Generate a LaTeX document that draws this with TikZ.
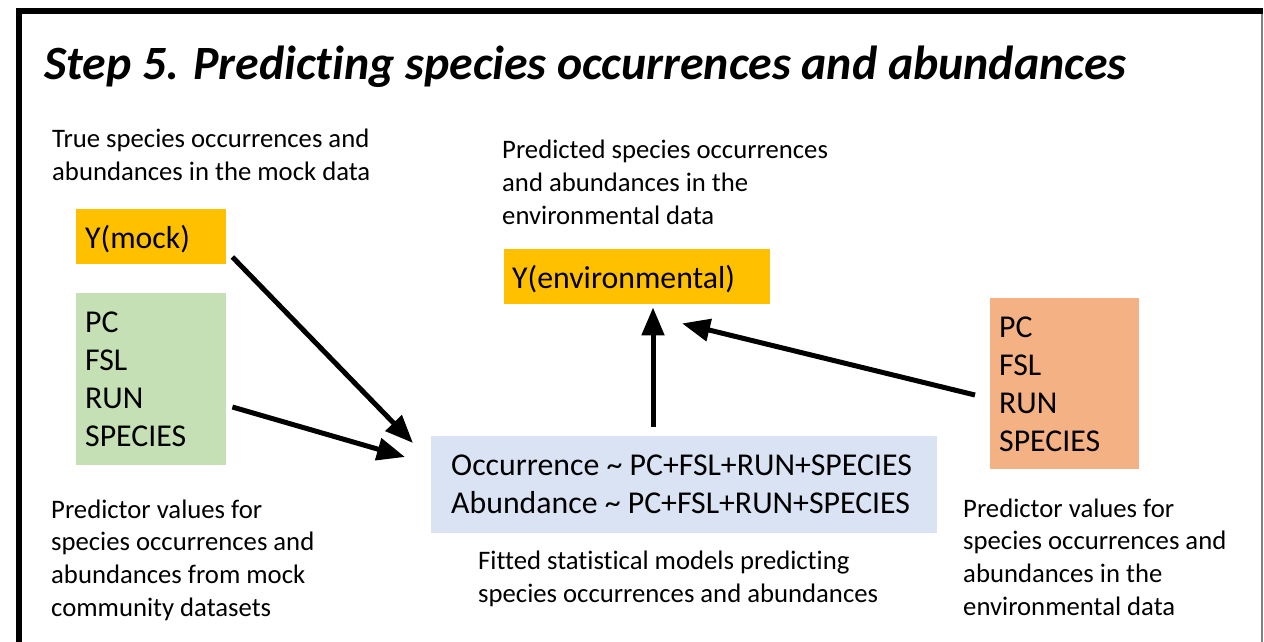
\documentclass[tikz,border=0pt]{standalone}
\usepackage{fontspec}
\setmainfont{Carlito}[Ligatures=NoCommon]
\usetikzlibrary{arrows.meta,calc}

\definecolor{gold}{HTML}{FFC000}
\definecolor{sage}{HTML}{C5E0B4}
\definecolor{paleblue}{HTML}{DAE3F3}
\definecolor{salmon}{HTML}{F4B183}

% multi-line texts are placed by the baseline of their last line
\tikzset{
  box/.style={draw=none, inner sep=0pt, anchor=north west},
  boxtext/.style={inner sep=0pt, anchor=base west, align=left,
    font=\fontsize{31.8}{38}\selectfont},
  caption/.style={inner sep=0pt, anchor=base west, align=left,
    font=\fontsize{26.7}{32.6}\selectfont},
  flow/.style={line width=5pt, -{Triangle[length=28pt,width=22pt]}},
}

\begin{document}
\begin{tikzpicture}[x=1pt, y=-1pt]
\useasboundingbox (0,0) rectangle (1264,641);

% frame
\draw[line width=6pt, line join=miter] (19,645) -- (19,11) -- (1263,11);
\draw[line width=1.5pt, draw=gray] (1262,14) -- (1262,645);

% title
\node[inner sep=0pt, anchor=base west, font=\fontsize{47.8}{55}\selectfont\bfseries\itshape]
  (title) at (44,79) {Step 5. Predicting species occurrences and abundances};

% coloured boxes
\node[box, fill=gold, minimum width=150pt, minimum height=55pt] (ymock) at (76,209) {};
\node[box, fill=sage, minimum width=150pt, minimum height=172pt] (predmock) at (76,293) {};
\node[box, fill=gold, minimum width=266pt, minimum height=55pt] (yenv) at (504,249) {};
\node[box, fill=paleblue, minimum width=506pt, minimum height=97pt] (model) at (431,436) {};
\node[box, fill=salmon, minimum width=149pt, minimum height=171pt] (predenv) at (990,298) {};

% box contents
\node[boxtext] (ymockt) at (85,248) {Y(mock)};
\node[boxtext] (predmockt) at (85,446) {PC\\FSL\\RUN\\SPECIES};
\node[boxtext] (yenvt) at (512,288) {Y(environmental)};
\node[boxtext] (modelt) at (451,513) {Occurrence \textasciitilde{} PC+FSL+RUN+SPECIES\\Abundance \textasciitilde{} PC+FSL+RUN+SPECIES};
\node[boxtext] (predenvt) at (999,451) {PC\\FSL\\RUN\\SPECIES};

% captions
\node[caption] (captrue) at (52,180) {True species occurrences and\\abundances in the mock data};
\node[caption] (cappred) at (502,224) {Predicted species occurrences\\and abundances in the\\environmental data};
\node[caption] (capmock) at (51,616) {Predictor values for\\species occurrences and\\abundances from mock\\community datasets};
\node[caption] (capfit) at (478,602) {Fitted statistical models predicting\\species occurrences and abundances};
\node[caption] (capenv) at (963,615) {Predictor values for\\species occurrences and\\abundances in the\\environmental data};

% arrow end points
\coordinate (a1s) at ($(ymock.north east)+(6,48)$);
\coordinate (a1e) at ($(model.north west)+(-18,7)$);
\coordinate (a2s) at ($(predmock.north east)+(6,114)$);
\coordinate (a2e) at ($(model.north west)+(-26,21)$);
\coordinate (a3s) at ($(model.north west)+(222,-9)$);
\coordinate (a3e) at ($(yenv.south west)+(149,3)$);
\coordinate (a4s) at ($(predenv.north west)+(-15,97)$);
\coordinate (a4e) at ($(yenv.south west)+(178,19)$);

% arrows
\draw[flow] (a1s) -- (a1e);
\draw[flow] (a2s) -- (a2e);
\draw[flow] (a3s) -- (a3e);
\draw[flow] (a4s) -- (a4e);
\end{tikzpicture}
\end{document}
